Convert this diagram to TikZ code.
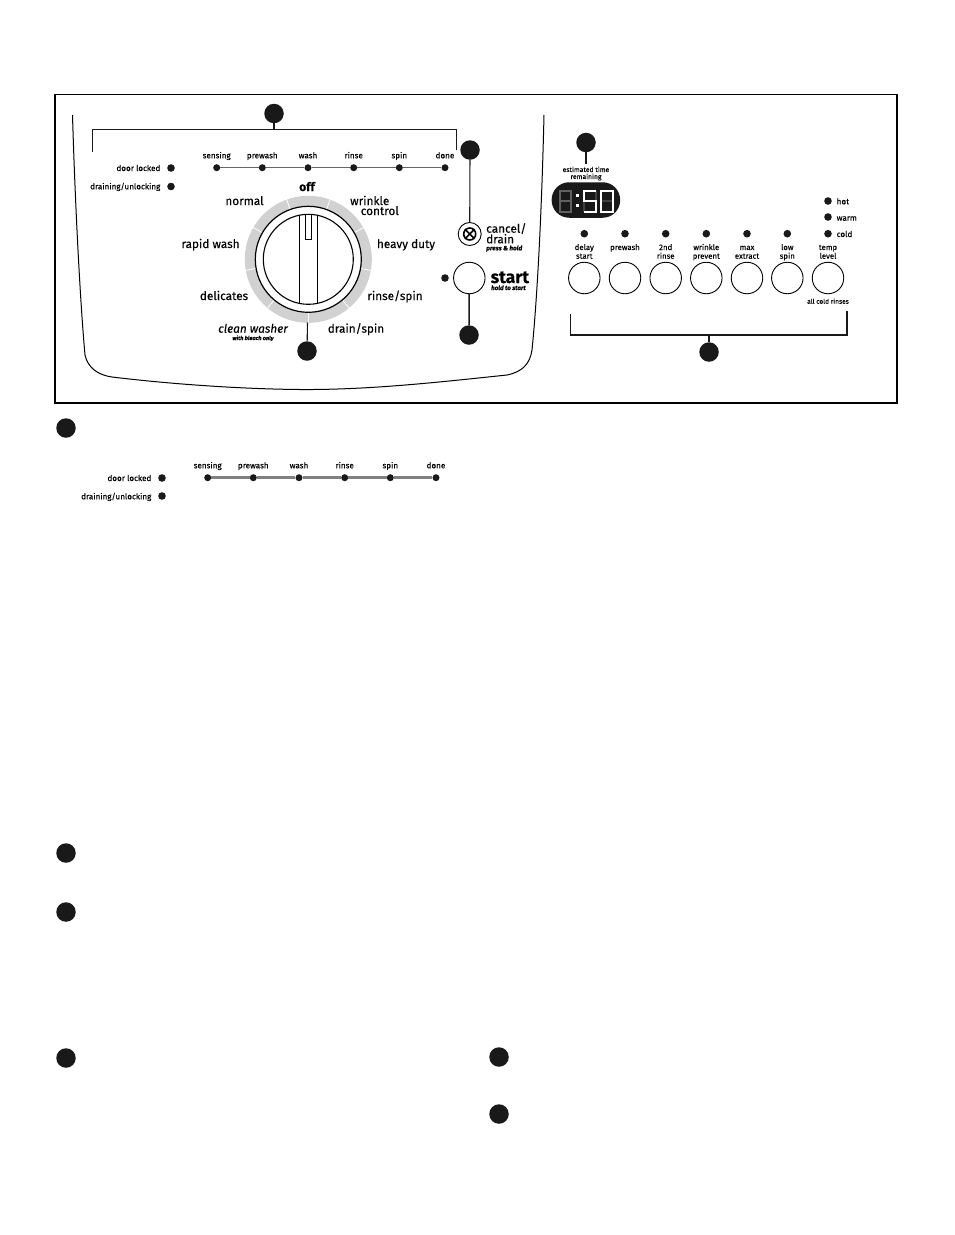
\documentclass[tikz,border=0pt]{standalone}
\usepackage{fontspec}
\setmainfont[FakeBold=0.12]{Fira Sans}
\begin{document}
\begin{tikzpicture}[x=1pt,y=-1pt,
  bub/.style={circle,fill=black!90,inner sep=0pt,minimum size=19.5pt},
  led/.style={circle,fill=black!90,inner sep=0pt,minimum size=7.6pt},
  sled/.style={circle,fill=black!90,inner sep=0pt,minimum size=7pt},
  btn/.style={circle,draw,line width=.9pt,inner sep=0pt,minimum size=31.5pt},
  cyc/.style={font=\fontsize{8.1}{8}\selectfont,inner sep=0pt,anchor=base},
  tag/.style={font=\fontsize{7.8}{8.7}\selectfont,inner sep=0pt,align=center,anchor=base},
  dial/.style={font=\fontsize{11.8}{12}\selectfont,inner sep=0pt,anchor=base},
  stem/.style={line width=1.1pt,black!90},
  trk/.style={line width=1.3pt,black!60},
  trkb/.style={line width=2.6pt,black!50}]
  \useasboundingbox (0,0) rectangle (954,1235);
  \draw[line width=1.5pt] (55,94.5) rectangle (897,403);
  \draw[line width=1pt] (72.5,115) .. controls (75,200) and (80,300) .. (85,355)
    .. controls (88,368) and (98,375) .. (112,377)
    .. controls (170,384) and (240,389) .. (300,389.5)
    .. controls (370,390) and (440,382) .. (507,375)
    .. controls (522,372) and (530,364) .. (532,350)
    .. controls (538,290) and (542,200) .. (544,115);
  \coordinate (dc) at (308.3,259.3);
  \fill[black!18] (dc) circle (63.5);
  \foreach \a in {90,50,10,-30,-70,-110,-150,170,130}
    \draw[white,line width=.8pt] (dc) ++(\a:50) -- ++(\a:15);
  \node[circle,draw,fill=white,line width=1.2pt,inner sep=0pt,minimum size=106pt] (dialo) at (dc) {};
  \node[circle,draw,line width=1.1pt,inner sep=0pt,minimum size=90pt] (diali) at (dc) {};
  \draw[line width=.9pt] (299.3,215.2) -- (299.3,303.4);
  \draw[line width=.9pt] (317.3,215.2) -- (317.3,303.4);
  \draw[line width=.7pt] (305.3,215) -- (305.3,239.3) -- (311.7,239.3) -- (311.7,215);
  \node[dial,font=\fontsize{12}{12}\selectfont\bfseries] (off) at (307,191) {off};
  \node[dial] (norm) at (244.5,205) {normal};
  \node[dial,anchor=base west] (wrk) at (350,205) {wrinkle};
  \node[dial,anchor=base east] (ctl) at (399,215) {control};
  \node[dial] (rapid) at (210.5,248) {rapid wash};
  \node[dial] (heavy) at (406,248) {heavy duty};
  \node[dial] (deli) at (224,300) {delicates};
  \node[dial] (rins) at (395,300) {rinse/spin};
  \node[dial,font=\fontsize{11.8}{12}\selectfont\itshape] (clean) at (253,332.7) {clean washer};
  \node[cyc,font=\fontsize{5.6}{6}\selectfont\itshape\bfseries] (bleach) at (253,340) {with bleach only};
  \node[dial] (drain) at (356,332.7) {drain/spin};
  \node[bub] (n1) at (274,113.5) {};
  \coordinate (b1a) at (92.5,152);
  \coordinate (b1b) at (92.5,129.5);
  \coordinate (b1c) at (456.8,129.5);
  \coordinate (b1d) at (456.8,149.5);
  \coordinate (b1m) at (274,129.5);
  \draw[stem] (b1a) -- (b1b) -- (b1c) -- (b1d);
  \draw[stem] (n1) -- (b1m);
  \node[sled] (s1) at (216.7,167.7) {};
  \node[sled] (s2) at (262.3,167.7) {};
  \node[sled] (s3) at (308,167.7) {};
  \node[sled] (s4) at (353.7,167.7) {};
  \node[sled] (s5) at (399.3,167.7) {};
  \node[sled] (s6) at (445,167.7) {};
  \draw[trk] (s1) -- (s2); \draw[trk] (s2) -- (s3); \draw[trk] (s3) -- (s4);
  \draw[trk] (s4) -- (s5); \draw[trk] (s5) -- (s6);
  \node[cyc] at (216.7,158.3) {sensing};
  \node[cyc] at (262.3,158.3) {prewash};
  \node[cyc] at (308,158.3) {wash};
  \node[cyc] at (353.7,158.3) {rinse};
  \node[cyc] at (399.3,158.3) {spin};
  \node[cyc] at (445,158.3) {done};
  \node[led] (lk) at (171,168) {};
  \node[led] (un) at (171,186.5) {};
  \node[cyc,anchor=base east] at (160.5,171) {door locked};
  \node[cyc,anchor=base east] at (160.5,189.3) {draining/unlocking};
  \node[bub] (n2) at (307,351) {};
  \coordinate (dlow) at (307.5,322.5);
  \draw[stem] (dlow) -- (n2);
  \node[bub] (n3) at (470,150) {};
  \node[circle,draw,line width=.9pt,inner sep=0pt,minimum size=23pt] (can) at (469.7,234) {};
  \node[circle,draw,line width=1.6pt,inner sep=0pt,minimum size=12pt] (cani) at (469.7,234) {};
  \draw[line width=1.6pt] (cani.north west) -- (cani.south east);
  \draw[line width=1.6pt] (cani.north east) -- (cani.south west);
  \draw[stem] (n3) -- (can);
  \node[dial,anchor=base west] (cd) at (486,232.7) {cancel/};
  \node[dial,anchor=base west] (dr) at (486,243.3) {drain};
  \node[cyc,anchor=base west,font=\fontsize{6.4}{7}\selectfont\itshape\bfseries] (ph) at (486,250.3) {press \& hold};
  \node[btn] (st) at (469.3,278) {};
  \node[led] (stl) at (445,278) {};
  \node[bub] (n4) at (469,335) {};
  \draw[stem,line width=1.5pt] (st) -- (n4);
  \node[inner sep=0pt,anchor=base west,font=\fontsize{17.5}{18}\selectfont\bfseries] (stt) at (490.5,283) {start};
  \node[cyc,anchor=base west,font=\fontsize{6.2}{7}\selectfont\itshape\bfseries] (hs) at (491,290) {hold to start};
  \node[bub] (n5) at (586,142.5) {};
  \coordinate (etop) at (586,163.5);
  \draw[stem] (n5) -- (etop);
  \node[cyc,font=\fontsize{6.8}{7}\selectfont] (est) at (586,172) {estimated time};
  \node[cyc,font=\fontsize{6.8}{7}\selectfont] (rem) at (586,179) {remaining};
  \node[rounded corners=17.5pt,fill=black!90,inner sep=0pt,minimum width=68.5pt,minimum height=35.5pt] (disp) at (585.9,200) {};
  \draw[black!62,line width=2pt] (559.5,190.5) rectangle +(11.5,21) (559.5,201) -- +(11.5,0);
  \draw[black!75,line width=2pt] (584,201) -- (584,211.5) (595.5,190.5) -- (595.5,201) (601,201) -- (612.5,201);
  \draw[white,line width=2pt] (595.5,190.5) -- (584,190.5) -- (584,201) -- (595.5,201) -- (595.5,211.5) -- (584,211.5);
  \draw[white,line width=2pt] (601,190.5) rectangle (612.5,211.5);
  \fill[white] (576,194) rectangle (579,197);
  \fill[white] (576,204) rectangle (579,207);
  \node[led] (hot) at (828,201) {};
  \node[led] (warm) at (828,217) {};
  \node[led] (cold) at (828,233.7) {};
  \node[cyc,anchor=base west] at (836.5,204.3) {hot};
  \node[cyc,anchor=base west] at (836.5,220.7) {warm};
  \node[cyc,anchor=base west] at (836.5,237) {cold};
  \node[led] at (584.3,233.7) {};
  \node[led] at (625,233.7) {};
  \node[led] at (665.7,233.7) {};
  \node[led] at (706.3,233.7) {};
  \node[led] at (747,233.7) {};
  \node[led] at (787.3,233.7) {};
  \node[btn] (p1) at (584.3,278) {};
  \node[btn] (p2) at (625,278) {};
  \node[btn] (p3) at (665.7,278) {};
  \node[btn] (p4) at (706.3,278) {};
  \node[btn] (p5) at (747,278) {};
  \node[btn] (p6) at (787.3,278) {};
  \node[btn] (p7) at (828,278) {};
  \node[tag] at (584.3,258.7) {delay\\start};
  \node[tag] at (625,250) {prewash};
  \node[tag] at (665.7,258.7) {2nd\\rinse};
  \node[tag] at (706.3,258.7) {wrinkle\\prevent};
  \node[tag] at (747,258.7) {max\\extract};
  \node[tag] at (787.3,258.7) {low\\spin};
  \node[tag] at (828,258.7) {temp\\level};
  \node[cyc,font=\fontsize{6.6}{7}\selectfont] at (828,303.7) {all cold rinses};
  \node[bub] (n6) at (709,352) {};
  \coordinate (b6a) at (570.5,314);
  \coordinate (b6b) at (570.5,335);
  \coordinate (b6c) at (847,335);
  \coordinate (b6d) at (847,311);
  \coordinate (b6m) at (709,335);
  \draw[stem] (b6a) -- (b6b) -- (b6c) -- (b6d);
  \draw[stem] (n6) -- (b6m);
  \node[bub] (k1) at (66,428) {};
  \node[sled] (t1) at (207.7,477.7) {};
  \node[sled] (t2) at (253.3,477.7) {};
  \node[sled] (t3) at (299,477.7) {};
  \node[sled] (t4) at (344.7,477.7) {};
  \node[sled] (t5) at (390.3,477.7) {};
  \node[sled] (t6) at (436,477.7) {};
  \draw[trkb] (t1) -- (t2); \draw[trkb] (t2) -- (t3); \draw[trkb] (t3) -- (t4);
  \draw[trkb] (t4) -- (t5); \draw[trkb] (t5) -- (t6);
  \node[cyc] at (207.7,468.3) {sensing};
  \node[cyc] at (253.3,468.3) {prewash};
  \node[cyc] at (299,468.3) {wash};
  \node[cyc] at (344.7,468.3) {rinse};
  \node[cyc] at (390.3,468.3) {spin};
  \node[cyc] at (436,468.3) {done};
  \node[led] (lk2) at (162,478) {};
  \node[led] (un2) at (162,496) {};
  \node[cyc,anchor=base east] at (151.5,481) {door locked};
  \node[cyc,anchor=base east] at (151.5,499.3) {draining/unlocking};
  \node[bub] (k2) at (66,853) {};
  \node[bub] (k3) at (66,912) {};
  \node[bub] (k4) at (66,1058) {};
  \node[bub] (k5) at (499,1057) {};
  \node[bub] (k6) at (499,1114) {};
\end{tikzpicture}
\end{document}
